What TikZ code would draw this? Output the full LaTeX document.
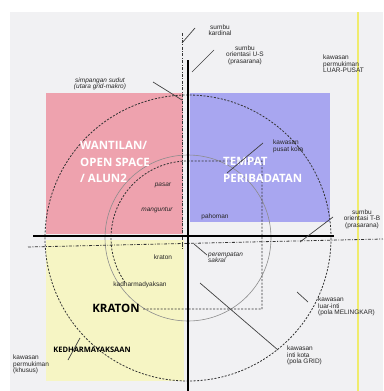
\documentclass[tikz,border=0pt]{standalone}
\usepackage{fontspec}
\setmainfont{Liberation Sans}
\newfontfamily\blokfont{Open Sans}
\usetikzlibrary{positioning}
\definecolor{halaman}{RGB}{241,241,243}
\definecolor{wantilan}{RGB}{238,162,174}
\definecolor{ibadah}{RGB}{168,166,240}
\definecolor{kratonbg}{RGB}{246,245,196}
\definecolor{stabilo}{RGB}{240,236,110}

\begin{document}
\begin{tikzpicture}[x=1pt,y=-1pt,
  tag/.style={font=\fontsize{6.5}{6.5}\selectfont, align=left, inner sep=0pt, text=black!85},
  mtag/.style={tag, font=\fontsize{6.5}{6.5}\selectfont\itshape},
  blok/.style={font=\blokfont\bfseries\fontsize{11.5}{16.5}\selectfont, text=white, align=left, inner sep=0pt},
  leader/.style={black!75, line width=0.7pt},
  sumbu/.style={line width=2.6pt},
  kardinal/.style={black!80, line width=0.8pt, dash pattern=on 3pt off 1.5pt on 0.8pt off 1.5pt},
  batas/.style={black!80, line width=0.8pt, dash pattern=on 2pt off 1.5pt}]

\useasboundingbox (0,0) rectangle (383,391);
\fill[halaman] (10,12) rectangle (383,391);
\fill[wantilan] (46,93) rectangle (183,234);
\fill[ibadah] (190,93) rectangle (330,222);
\fill[kratonbg] (46,240) rectangle (184,381);
\draw[stabilo, line width=2pt] (358,12) -- (358,391);

\coordinate (P) at (188,238);
\draw[batas] (P) circle[radius=143]; %%luar-inti
\draw[black!45, line width=0.6pt] (P) circle[radius=83];
\draw[batas] (143,309) -- (262,309) -- (262,161) -- (188,161) arc[start angle=270, end angle=145, radius=77]; %%grid

\coordinate (U) at (188,60);
\coordinate (S) at (188,391);
\coordinate (B) at (33,236);
\coordinate (T) at (334,236);
\draw[kardinal] (182,33) -- (182,250);
\draw[kardinal] (28,247) -- (383,239);
\draw[sumbu] (U) -- (S);
\draw[sumbu] (B) -- (T);

\node[blok] (wantilan) at (80,162) [anchor=west] {WANTILAN/\\OPEN SPACE\\/ ALUN2};
\node[blok] (tempat) at (223,170) [anchor=west] {TEMPAT\\PERIBADATAN};
\node[blok, text=black] (kraton) at (116,308) {KRATON};
\node[font=\blokfont\bfseries\fontsize{7.5}{7.5}\selectfont, inner sep=0pt] (kedharma) at (92,350) {KEDHARMAYAKSAAN};

\node[mtag] (pasar) at (163,185) {pasar};
\node[mtag] (manguntur) at (157,210) {manguntur};
\node[tag] (pahoman) at (215,217) {pahoman};
\node[tag] (kratonkecil) at (163,257) {kraton};
\node[tag] (kadharma) at (140,285) {kadharmadyaksan};

\node[tag, align=center] (kardinalT) at (220,30) {sumbu\\kardinal};
\node[tag, align=center] (orientUS) at (245,55) {sumbu\\orientasi U-S\\(prasarana)};
\node[tag, anchor=north west] (luarpusat) at (323,55) {kawasan\\permukiman\\LUAR-PUSAT};
\node[mtag, align=center] (simpangan) at (100,84) {simpangan sudut\\(utara grid-makro)};
\node[tag, anchor=north west] (pusatkota) at (273,140) {kawasan\\pusat kota};
\node[tag, align=center] (orientTB) at (362,219) {sumbu\\orientasi T-B\\(prasarana)};
\node[mtag, anchor=north west] (perempatan) at (208,252) {perempatan\\sakral};
\node[tag, anchor=north west] (melingkar) at (318,297) {kawasan\\luar-inti\\(pola MELINGKAR)};
\node[tag, anchor=north west] (grid) at (287,346) {kawasan\\inti kota\\(pola GRID)};
\node[tag, anchor=north west] (khusus) at (13,355) {kawasan\\permukiman\\(khusus)};

\coordinate (k1) at (182,43);   \coordinate (k2) at (195,28);
\coordinate (o1) at (192,72);   \coordinate (o2) at (214,50);
\coordinate (s1) at (153,82);   \coordinate (s2) at (182,100);
\coordinate (p1) at (227,173);  \coordinate (p2) at (263,143);
\coordinate (t1) at (300,242);  \coordinate (t2) at (333,217);
\coordinate (r1) at (194,244);  \coordinate (r2) at (207,255);
\coordinate (m1) at (297,292);  \coordinate (m2) at (308,302);
\coordinate (g1) at (200,283);  \coordinate (g2) at (278,350);
\coordinate (h1) at (80,338);   \coordinate (h2) at (68,360);
\draw[leader] (k1) -- (k2);
\draw[leader] (o1) -- (o2);
\draw[leader] (s1) -- (s2);
\draw[leader] (p1) -- (p2);
\draw[leader] (t1) -- (t2);
\draw[leader] (r1) -- (r2);
\draw[leader] (m1) -- (m2);
\draw[leader] (g1) -- (g2);
\draw[leader] (h1) -- (h2);
\end{tikzpicture}
\end{document}
